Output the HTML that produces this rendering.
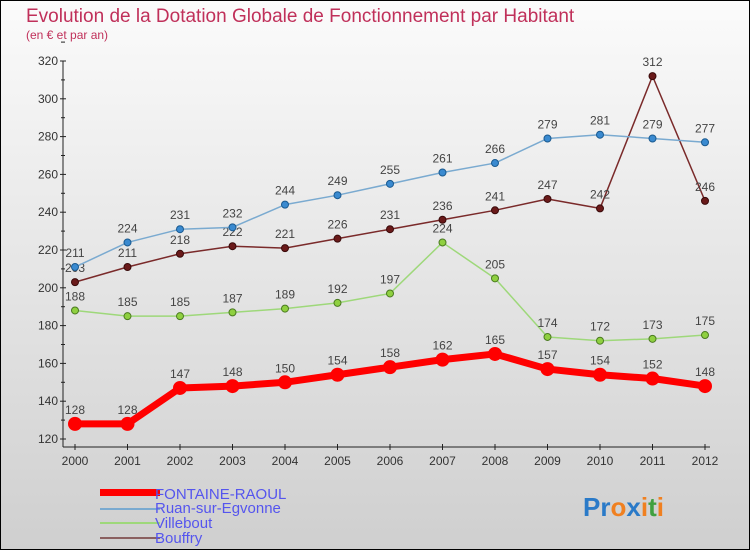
<!DOCTYPE html>
<html><head><meta charset="utf-8"><style>
body{margin:0}
#c{width:750px;height:550px;position:relative;font-family:"Liberation Sans",sans-serif;}
</style></head><body>
<div id="c">
<svg id="s" width="750" height="550" xmlns="http://www.w3.org/2000/svg">
<defs><linearGradient id="bg" x1="0" y1="0" x2="0" y2="1"><stop offset="0" stop-color="#fbfbfb"/><stop offset="1" stop-color="#cfcfcf"/></linearGradient></defs>
<rect x="0.5" y="0.5" width="749" height="549" fill="url(#bg)" stroke="#000"/>
<text x="26" y="22" font-size="19" fill="#c0305a">Evolution de la Dotation Globale de Fonctionnement par Habitant</text>
<text x="26" y="39" font-size="12" fill="#c0305a">(en € et par an)</text>
<g id="axes"></g><g id="series"></g>
<g>
<rect x="100" y="489" width="60" height="7" fill="#f00"/>
<text x="155" y="499" font-size="15" fill="#5555ee">FONTAINE-RAOUL</text>
<rect x="100" y="508" width="60" height="2" fill="#7aaad0"/>
<text x="155" y="513" font-size="15" fill="#5555ee">Ruan-sur-Egvonne</text>
<rect x="100" y="522" width="60" height="2" fill="#9ed87a"/>
<text x="155" y="528" font-size="15" fill="#5555ee">Villebout</text>
<rect x="100" y="537" width="60" height="2" fill="#8a6060"/>
<text x="155" y="543" font-size="15" fill="#5555ee">Bouffry</text>
</g>
<text x="583" y="516" font-size="26" font-weight="bold"><tspan fill="#2a7ac8">Pr</tspan><tspan fill="#f08020">o</tspan><tspan fill="#2a7ac8">x</tspan><tspan fill="#f08020">i</tspan><tspan fill="#40a040">t</tspan><tspan fill="#f08020">i</tspan></text>
</svg></div>
<script>
const years=["2000","2001","2002","2003","2004","2005","2006","2007","2008","2009","2010","2011","2012"];
const yTicks=[120,140,160,180,200,220,240,260,280,300,320];
const fontaine=[128,128,147,148,150,154,158,162,165,157,154,152,148];
const ruan=[211,224,231,232,244,249,255,261,266,279,281,279,277];
const villebout=[188,185,185,187,189,192,197,224,205,174,172,173,175];
const bouffry=[203,211,218,222,221,226,231,236,241,247,242,312,246];
const NS="http://www.w3.org/2000/svg";
function X(i){return 75+i*52.5;}
function Y(v){return 439-(v-120)*1.89;}
function mk(t,a,p){const e=document.createElementNS(NS,t);for(const k in a)e.setAttribute(k,a[k]);p.appendChild(e);return e;}
const ax=document.getElementById('axes');
let l=mk('line',{x1:63,y1:61,x2:63,y2:447,stroke:'#222'},ax);


l=mk('line',{x1:63,y1:447,x2:710,y2:447,stroke:'#222'},ax);


yTicks.forEach(v=>{
 const t=mk('text',{x:58,y:Y(v)+4,'font-size':12,fill:'#333','text-anchor':'end'},ax);t.textContent=v;
 
 
 mk('line',{x1:60,y1:Y(v),x2:66,y2:Y(v),stroke:'#222'},ax);
 mk('line',{x1:61,y1:Y(v+10),x2:65,y2:Y(v+10),stroke:'#222'},ax);
});
years.forEach((y,i)=>{
 const t=mk('text',{x:X(i),y:465,'font-size':12,fill:'#333','text-anchor':'middle'},ax);t.textContent=y;
 
 
 mk('line',{x1:X(i),y1:444,x2:X(i),y2:450,stroke:'#222'},ax);
});
const sg=document.getElementById('series');
function draw(name,data,color,w,r,dot,dotStroke){
 const g=mk('g',{},sg);
 
 
 const p=mk('polyline',{points:data.map((v,i)=>X(i)+','+Y(v)).join(' '),fill:'none',stroke:color,'stroke-width':w,'stroke-linejoin':'round'},g);
 
 
 data.forEach((v,i)=>{
  const c=mk('circle',{cx:X(i),cy:Y(v),r:r,fill:dot,stroke:dotStroke,'stroke-width':1},g);
  
  
  const t=mk('text',{x:X(i),y:Y(v)-10,'font-size':12,fill:'#444','text-anchor':'middle'},g);t.textContent=v;
  
  
 });
}
draw('villebout',villebout,'#9ed87a',1.5,3.5,'#8fd040','#4a7a20');
draw('bouffry',bouffry,'#7a2a2a',1.5,3.5,'#6a1a1a','#3a0a0a');
draw('ruan',ruan,'#7aaad0',1.5,3.5,'#3a8ad0','#1a5a90');
draw('fontaine',fontaine,'#f00',7,6.5,'#f00','#f00');
</script>
</body></html>
